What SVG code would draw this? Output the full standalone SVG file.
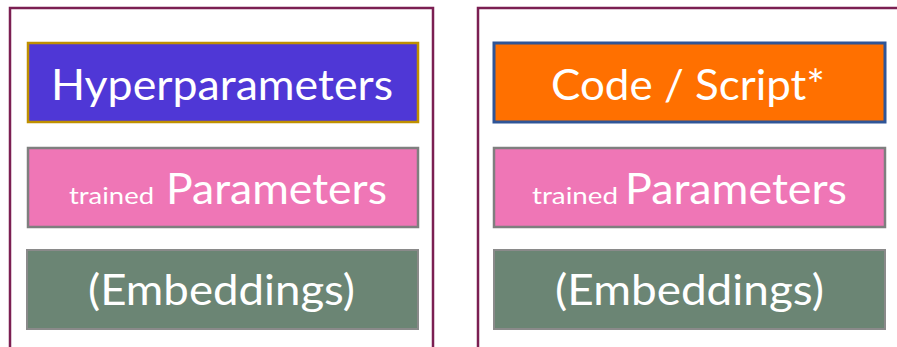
<svg xmlns="http://www.w3.org/2000/svg" width="897" height="347" viewBox="0 0 897 347">
<style>
.outer{fill:none;stroke:#7b1f52;stroke-width:2.5}
.hyper{fill:#4f37d6;stroke:#bf9000;stroke-width:2.5}
.code{fill:#ff7000;stroke:#2f5597;stroke-width:3}
.param{fill:#ef76b6;stroke:#7f7f7f;stroke-width:2.5}
.emb{fill:#6b8574;stroke:#8a8a8a;stroke-width:2}
text{font-family:Lato,"Open Sans",sans-serif;fill:#ffffff}
.big{font-size:43px}
.small{font-size:24px}
</style>
<rect width="897" height="347" fill="#ffffff"/>
<g id="left-panel">
<rect class="outer" x="10" y="8" width="423" height="360"/>
</g>
<g id="right-panel">
<rect class="outer" x="478" y="8" width="460" height="360"/>
</g>
<g id="hyperparameters">
<rect class="hyper" x="28" y="43" width="390" height="79"/>
<text class="big" x="51" y="100" textLength="342" lengthAdjust="spacingAndGlyphs">Hyperparameters</text>
</g>
<g id="trained-parameters-left">
<rect class="param" x="28" y="148" width="390" height="79"/>
<text class="small" x="69" y="204" textLength="85" lengthAdjust="spacingAndGlyphs">trained</text>
<text class="big" x="166" y="204" textLength="221" lengthAdjust="spacingAndGlyphs">Parameters</text>
</g>
<g id="embeddings-left">
<rect class="emb" x="27" y="250" width="391" height="79"/>
<text class="big" x="88" y="305" textLength="267" lengthAdjust="spacingAndGlyphs">(Embeddings)</text>
</g>
<g id="code-script">
<rect class="code" x="494" y="43" width="391" height="79"/>
<text class="big" x="551" y="100" textLength="274" lengthAdjust="spacingAndGlyphs">Code / Script*</text>
</g>
<g id="trained-parameters-right">
<rect class="param" x="494" y="148" width="391" height="79"/>
<text class="small" x="532" y="204" textLength="86" lengthAdjust="spacingAndGlyphs">trained</text>
<text class="big" x="625" y="204" textLength="222" lengthAdjust="spacingAndGlyphs">Parameters</text>
</g>
<g id="embeddings-right">
<rect class="emb" x="494" y="250" width="391" height="79"/>
<text class="big" x="555" y="305" textLength="269" lengthAdjust="spacingAndGlyphs">(Embeddings)</text>
</g>
</svg>
